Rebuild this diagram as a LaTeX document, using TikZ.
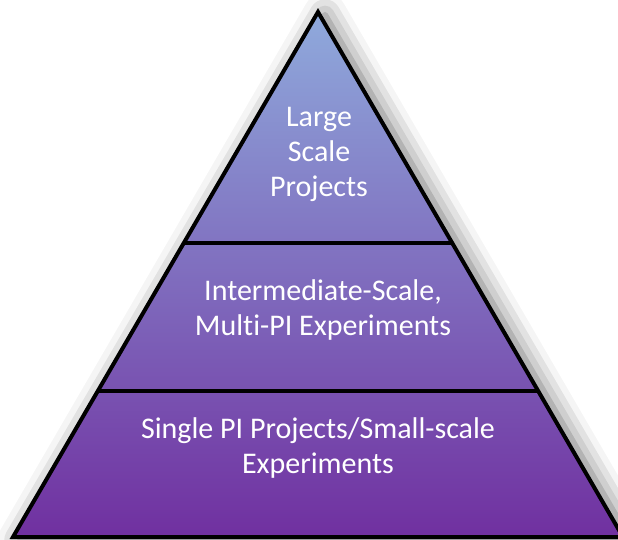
\documentclass[tikz,border=0pt]{standalone}
\usepackage{fontspec}
\setmainfont{Carlito}[Ligatures=NoCommon]
\usetikzlibrary{positioning}
\usetikzlibrary{calc}
\usetikzlibrary{shadows.blur}
\definecolor{apexblue}{HTML}{8FAADC}
\definecolor{basepurple}{HTML}{7030A0}

\begin{document}
\begin{tikzpicture}[x=1pt,y=1pt,
  tier/.style={text=white, align=center, font=\fontsize{30}{35}\selectfont},
  edge/.style={line width=4pt, line join=miter}]

\useasboundingbox (0,0) rectangle (618,539);

\coordinate (apex) at (318,527);
\coordinate (bl) at (13,2);
\coordinate (br) at (623,2);

\coordinate (ul) at ($(bl)!0.56!(apex)$);
\coordinate (ur) at ($(br)!0.56!(apex)$);
\coordinate (ml) at ($(bl)!0.278!(apex)$);
\coordinate (mr) at ($(br)!0.278!(apex)$);

% pyramid body
\fill[blur shadow={shadow xshift=7pt, shadow yshift=-3pt, shadow blur radius=22pt, shadow opacity=60},
  top color=apexblue, bottom color=basepurple] (apex)--(bl)--(br)--cycle;

\draw[edge] (apex)--(bl)--(br)--cycle;
\draw[edge] (ul)--(ur);
\draw[edge] (ml)--(mr);

% labels
\node[tier] (top) at (319,385) {Large\\Scale\\Projects};
\node[tier] (mid) at (323,229) {Intermediate-Scale,\\Multi-PI Experiments};
\node[tier] (base) at (318,91.5) {Single PI Projects/Small-scale\\Experiments};

\end{tikzpicture}
\end{document}
